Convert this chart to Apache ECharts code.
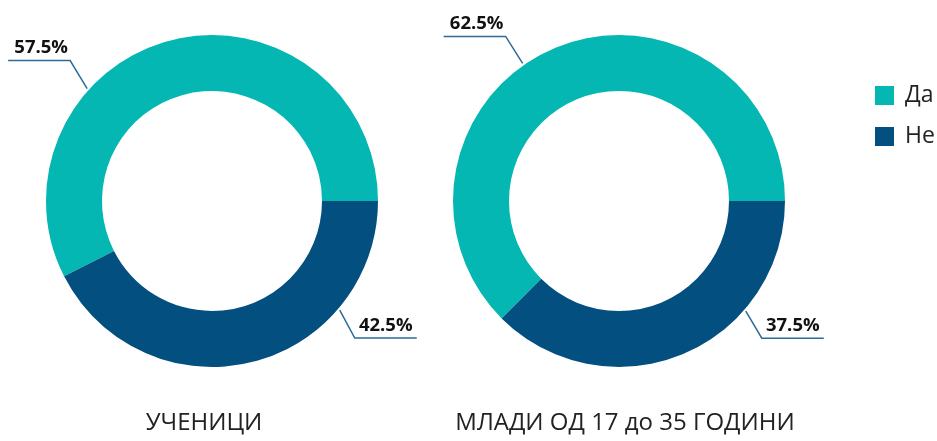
<!DOCTYPE html>
<html><head><meta charset="utf-8">
<script src="https://cdn.jsdelivr.net/npm/echarts@6/dist/echarts.min.js"></script>
<style>html,body{margin:0;padding:0;background:#fff}#c{width:937px;height:441px}</style>
</head><body><div id="c"></div>
<script>
const categories = ['Да', 'Не'];
const groups = ['УЧЕНИЦИ', 'МЛАДИ ОД 17 до 35 ГОДИНИ'];
const studentsValues = [57.5, 42.5];
const youthValues = [62.5, 37.5];
const colors = ['#04B7B2', '#024F80'];

const centers = [[212, 201], [619, 201]];
const R = 166, r = 110;
// label anchor angles (deg, counterclockwise from 3 o'clock) per series/data
const anchorAngles = [[138, -40.5], [125, -41]];
const firstSeg = [[[-17, -28], [15, 28]], [[-17, -27], [16, 27]]];
const segLen = 62;

const chart = echarts.init(document.getElementById('c'));
function makeSeries(vals, si) {
  return {
    type: 'pie',
    center: centers[si],
    radius: [r, R],
    startAngle: 0,
    clockwise: false,
    silent: true,
    data: categories.map((c, i) => ({ name: c, value: vals[i], itemStyle: { color: colors[i] } })),
    label: {
      show: true, position: 'outside',
      formatter: p => p.value.toFixed(1) + '%',
      fontFamily: 'Open Sans', fontWeight: 'bold', fontSize: 18.5, color: '#111'
    },
    labelLine: { show: true, lineStyle: { color: '#2C6A98', width: 1.5 } },
    labelLayout: function (p) {
      const s = p.seriesIndex, d = p.dataIndex;
      const a = anchorAngles[s][d] * Math.PI / 180;
      const c = centers[s];
      const p0 = [c[0] + (R + 2) * Math.cos(a), c[1] - (R + 2) * Math.sin(a)];
      const f = firstSeg[s][d];
      const p1 = [p0[0] + f[0], p0[1] + f[1]];
      const dir = f[0] < 0 ? -1 : 1;
      const p2 = [p1[0] + dir * segLen, p1[1]];
      return {
        x: (p1[0] + p2[0]) / 2 + 2 * (dir < 0 ? 1 : 0),
        y: p1[1] - 3,
        align: 'center', verticalAlign: 'bottom',
        labelLinePoints: [p0, p1, p2]
      };
    }
  };
}
chart.setOption({
  animation: false,
  title: [
    { text: groups[0], left: 204, top: 411, textAlign: 'center', padding: 0,
      textStyle: { fontFamily: 'Open Sans', fontWeight: 'normal', fontSize: 24, color: '#222' } },
    { text: groups[1], left: 625, top: 411, textAlign: 'center', padding: 0,
      textStyle: { fontFamily: 'Open Sans', fontWeight: 'normal', fontSize: 24, color: '#222' } }
  ],
  legend: {
    orient: 'vertical', left: 875, top: 84, padding: 0,
    itemWidth: 19, itemHeight: 19, itemGap: 18, icon: 'rect',
    data: categories,
    textStyle: { fontFamily: 'Open Sans', fontSize: 23, color: '#222', padding: [0, 0, 0, 6] }
  },
  series: [makeSeries(studentsValues, 0), makeSeries(youthValues, 1)]
});
</script></body></html>
